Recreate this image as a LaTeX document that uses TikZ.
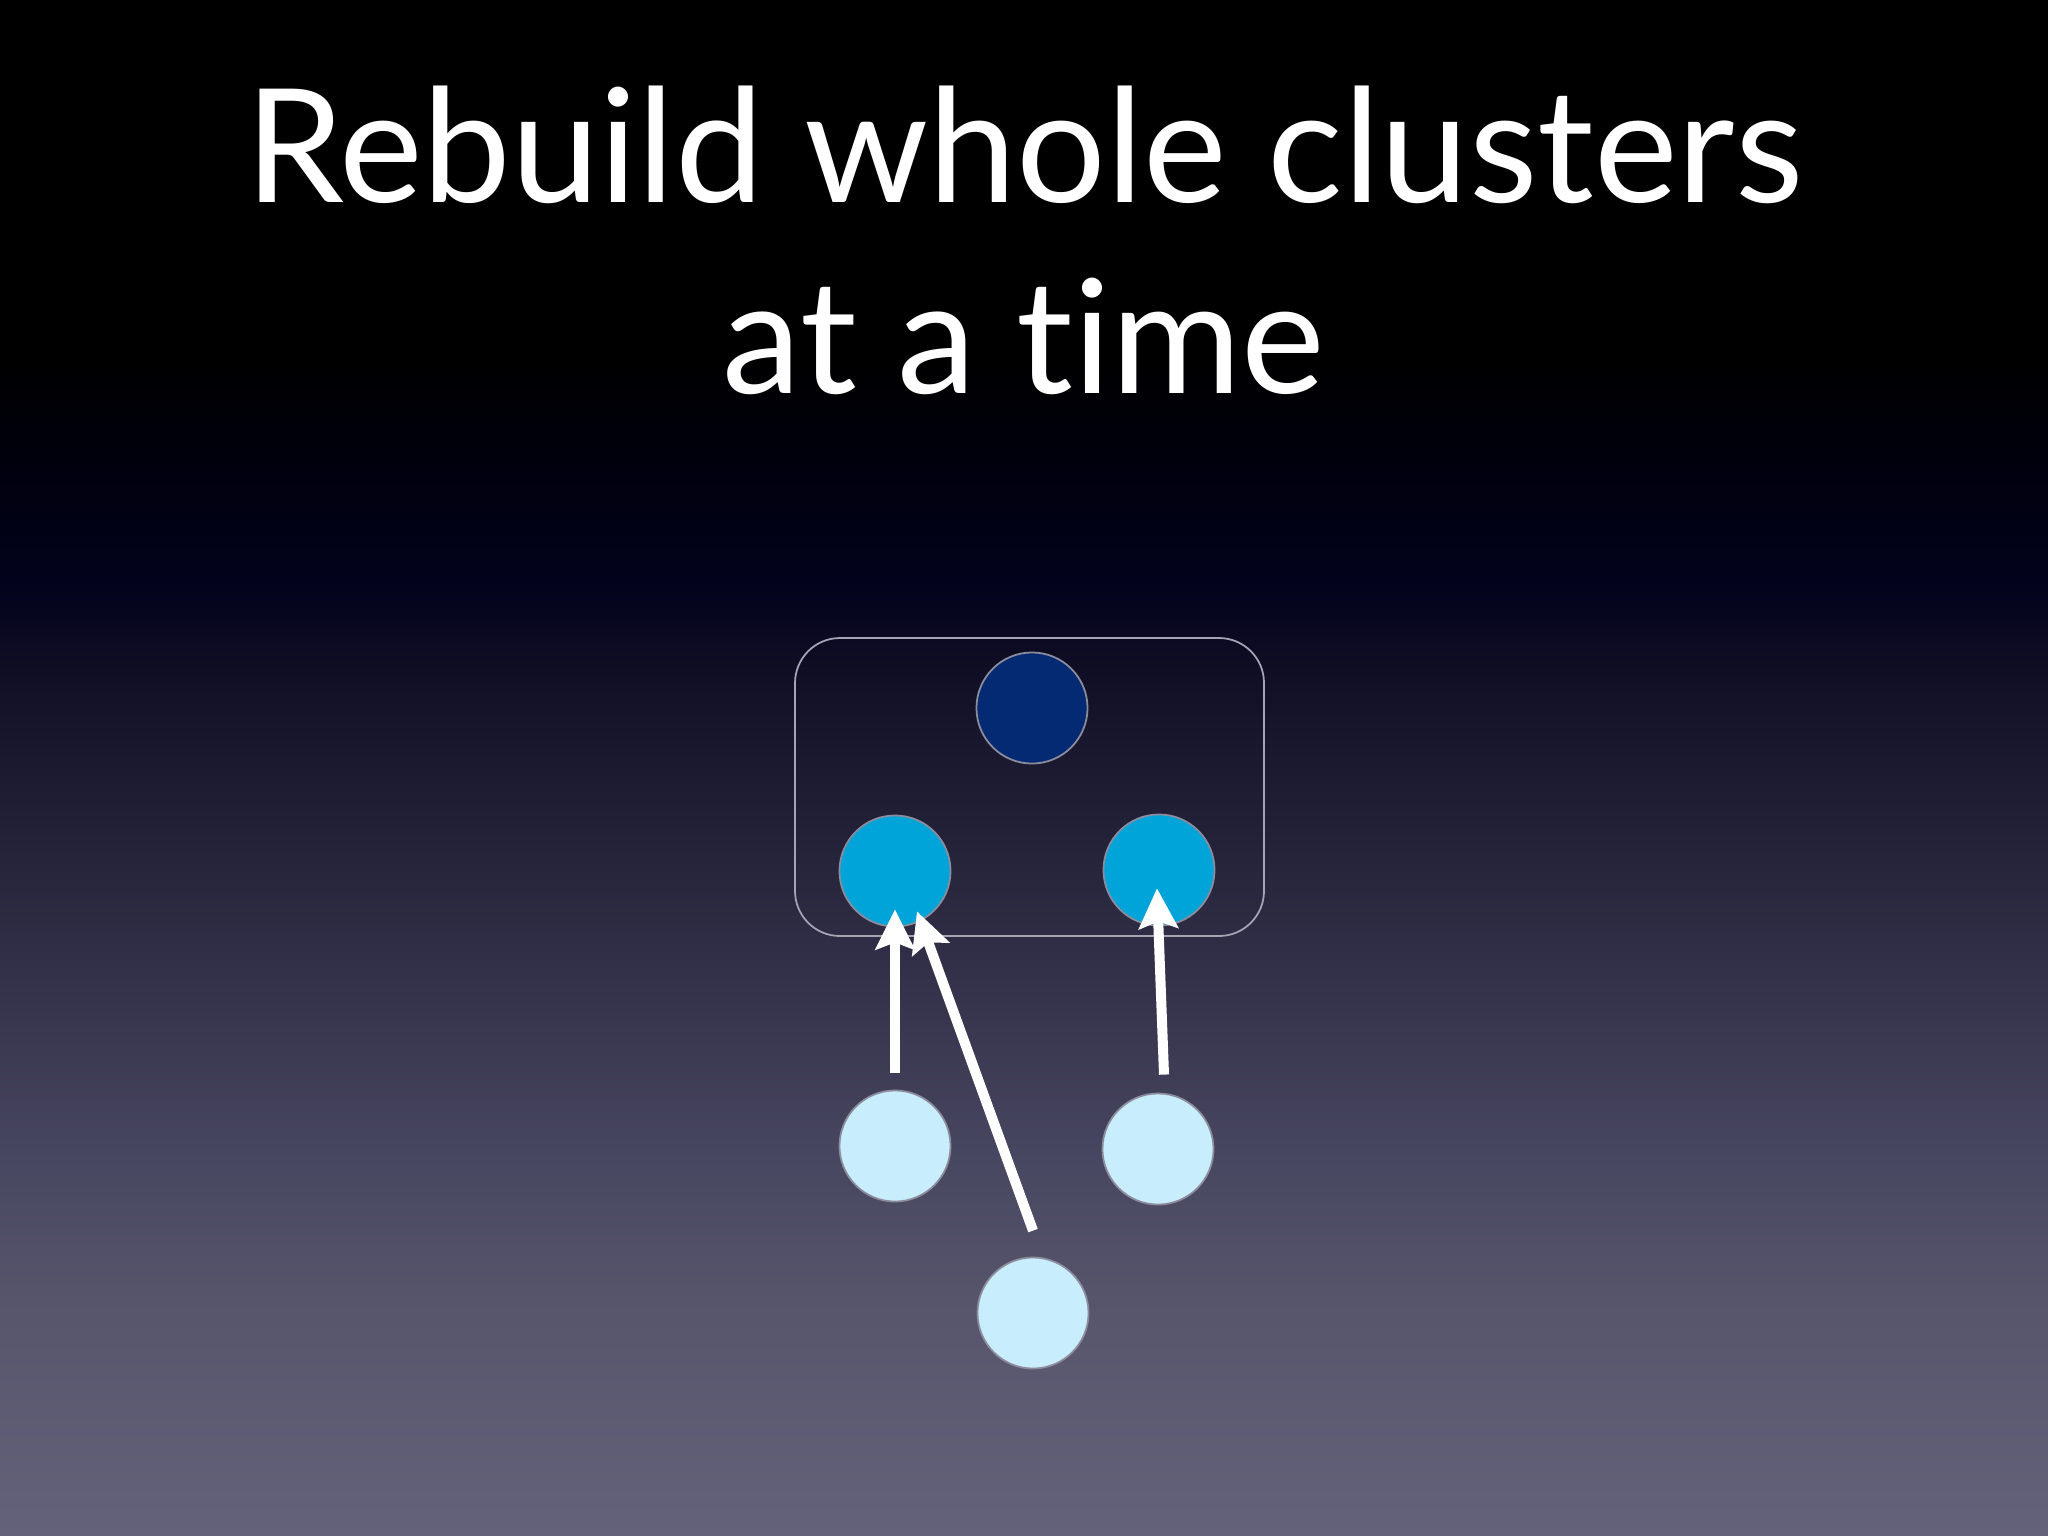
\documentclass[tikz,border=0pt]{standalone}
\usepackage{fontspec}
\setmainfont{Lato}[Ligatures=NoCommon]
\usetikzlibrary{arrows.meta}

\definecolor{bgbottom}{HTML}{63627A}
\definecolor{rootblue}{HTML}{032A72}
\definecolor{midblue}{HTML}{00A4D8}
\definecolor{leafblue}{HTML}{C8EDFC}
\definecolor{rimgray}{HTML}{8C8C9C}
\definecolor{boxgray}{HTML}{A4A4B4}

\pgfdeclareverticalshading{slidebg}{100bp}{%
  color(0bp)=(bgbottom); color(25bp)=(bgbottom);
  color(32.7bp)=(rgb,255:red,86;green,85;blue,108);
  color(37.55bp)=(rgb,255:red,71;green,70;blue,96);
  color(42.45bp)=(rgb,255:red,54;green,52;blue,76);
  color(47.35bp)=(rgb,255:red,37;green,35;blue,58);
  color(52.2bp)=(rgb,255:red,20;green,18;blue,40);
  color(56.1bp)=(rgb,255:red,2;green,2;blue,28);
  color(60.35bp)=(rgb,255:red,0;green,0;blue,12);
  color(63.5bp)=(black); color(100bp)=(black)}

\tikzset{
  member/.style={circle, minimum size=1.11cm, inner sep=0pt, draw=rimgray, line width=0.5pt},
  rootnode/.style={member, fill=rootblue},
  midnode/.style={member, fill=midblue},
  leafnode/.style={member, fill=leafblue},
  clusterbox/.style={draw=boxgray, line width=0.5pt, rounded corners=0.45cm},
  link/.style={draw=white, line width=0.1cm,
    -{Stealth[length=0.4cm, width=0.39cm, inset=0.07cm]}},
  title/.style={text=white, font=\fontsize{45}{54}\selectfont, anchor=base, inner sep=0pt}
}

\begin{document}
\begin{tikzpicture}[x=0.01cm, y=-0.01cm]
            \useasboundingbox (0, 0) rectangle (2048, 1536);
            \shade[shading=slidebg] (0, 0) rectangle (2048, 1536);

            \node[title] (title1) at (1024, 202) {Rebuild whole clusters};
            \node[title] (title2) at (1024, 393) {at a time};

            \draw[clusterbox] (795, 638) rectangle (1264, 936);

            \foreach \name/\x/\y/\kind in {root/1032/708/rootnode, midl/895/871/midnode,
                midr/1159/870/midnode, leafl/895/1146/leafnode,
                leafr/1158/1149/leafnode, leafb/1033/1313/leafnode}{
                \node[\kind] (\name) at (\x, \y) {};
            }

            \draw[link] ([yshift=0.17cm]leafl.north) -- ([yshift=0.18cm]midl.south);
            \draw[link] ([shift={(0.06cm,0.18cm)}]leafr.north) -- ([shift={(-0.02cm,0.38cm)}]midr.south);
            \draw[link] ([yshift=0.26cm]leafb.north) -- ([shift={(0.22cm,0.16cm)}]midl.south);

        \end{tikzpicture}
\end{document}
